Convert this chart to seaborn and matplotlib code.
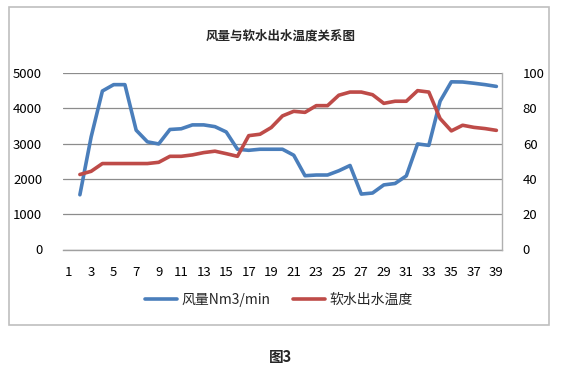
import numpy as np
import pandas as pd
import matplotlib
matplotlib.use("Agg")
import matplotlib.pyplot as plt
import seaborn as sns
from matplotlib.lines import Line2D
from matplotlib.patches import Rectangle

sns.set_theme(style="white")
plt.rcParams['font.family'] = ['Noto Sans CJK SC', 'DejaVu Sans']

title = "风量与软水出水温度关系图"
caption = "图3"
series_names = ["风量Nm3/min", "软水出水温度"]
x = list(range(1, 40))
airflow = [np.nan, 1550, 3190, 4490, 4670, 4670, 3380, 3050, 2990, 3400,
           3420, 3530, 3530, 3480, 3330, 2840, 2810, 2840, 2840, 2840,
           2670, 2090, 2110, 2110, 2230, 2380, 1570, 1600, 1830, 1870,
           2085, 2990, 2950, 4200, 4750, 4745, 4710, 4670, 4620]
temp = [np.nan, 42.5, 44.3, 48.7, 48.7, 48.7, 48.7, 48.7, 49.4, 52.8,
        52.8, 53.6, 54.9, 55.7, 54.3, 52.8, 64.5, 65.3, 69.1, 75.7,
        78.3, 77.7, 81.5, 81.5, 87.4, 89.2, 89.2, 87.7, 82.8, 84.0,
        84.0, 90.0, 89.2, 74.2, 67.2, 70.4, 69.2, 68.5, 67.5]
left_ticks = [0, 1000, 2000, 3000, 4000, 5000]
right_ticks = [0, 20, 40, 60, 80, 100]

df = pd.DataFrame({"x": x, "airflow": airflow, "temp": temp})

blue = "#4A7EBB"
red = "#BE4B48"

fig = plt.figure(figsize=(5.62, 3.69), dpi=100)
ax = fig.add_axes([63/562, 1 - 249.5/369, (502-63)/562, (249.5-73)/369])
ax2 = ax.twinx()

sns.lineplot(data=df, x="x", y="airflow", ax=ax, color=blue, lw=2.6, legend=False)
sns.lineplot(data=df, x="x", y="temp", ax=ax2, color=red, lw=2.6, legend=False)

ax.set_xlim(0.5, 39.5)
ax.set_ylim(0, 5000)
ax2.set_ylim(0, 100)
ax.set_yticks(left_ticks)
ax2.set_yticks(right_ticks)
ax.set_xticks(x[::2])
ax.set_xticklabels([str(v) for v in x[::2]])
ax.set_xlabel("")
ax.set_ylabel("")
ax2.set_ylabel("")

for a in (ax, ax2):
    for s in a.spines.values():
        s.set_visible(False)
ax2.spines['right'].set_visible(True)
ax2.spines['right'].set_color('#B0B0B0')
ax2.spines['right'].set_linewidth(1.0)
ax.spines['bottom'].set_visible(True)
ax.spines['bottom'].set_color('#A0A0A0')
ax.spines['bottom'].set_linewidth(1.0)

ax.yaxis.grid(True, color='#8C8C8C', lw=0.9)
ax.set_axisbelow(True)
ax.tick_params(axis='y', length=0, pad=15, labelsize=9.5, labelcolor='black')
ax.tick_params(axis='x', length=0, pad=12, labelsize=9.5, labelcolor='black')
ax2.tick_params(axis='y', length=0, pad=15, labelsize=9.5, labelcolor='black')

fig.text(281/562, 1 - 36/369, title, ha='center', va='center', fontsize=9, fontweight='bold')

handles = [Line2D([], [], color=blue, lw=2.6), Line2D([], [], color=red, lw=2.6)]
fig.legend(handles, series_names, loc='center', bbox_to_anchor=(279/562, 1 - 300/369),
           ncol=2, frameon=False, fontsize=10, handlelength=2.3, columnspacing=1.6,
           handletextpad=0.35)

fig.patches.append(Rectangle((9/562, 1 - 325/369), (549-9)/562, (325-7)/369,
                             transform=fig.transFigure, fill=False,
                             edgecolor='#BFBFBF', lw=1.2))

fig.text(281/562, 1 - 357/369, caption, ha='center', va='center', fontsize=10.5, fontweight='bold')

fig.savefig("out.png", dpi=100)
